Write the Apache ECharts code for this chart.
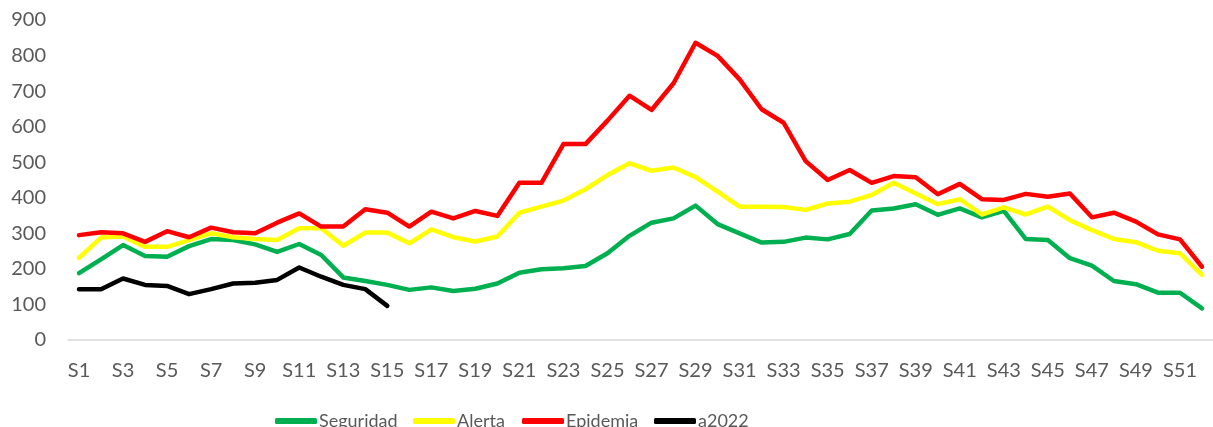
<!DOCTYPE html>
<html><head><meta charset="utf-8">
<script src="https://cdn.jsdelivr.net/npm/echarts@6/dist/echarts.min.js"></script>
<style>html,body{margin:0;padding:0;background:#fff}#c{width:1213px;height:427px}</style>
</head><body><div id="c"></div>
<script>
const categories = Array.from({length:52},(_,i)=>'S'+(i+1));
const seguridad = [188,227,267,236,234,264,284,281,269,248,270,239,176,166,155,141,148,138,144,159,189,199,202,208,244,293,330,342,378,326,300,274,276,288,283,298,364,370,382,352,370,345,363,284,281,230,209,166,157,133,133,89];
const alerta = [231,288,291,262,262,281,300,289,284,281,314,314,265,302,302,272,311,289,277,291,358,375,392,424,464,497,476,485,458,417,375,375,374,366,384,389,408,442,412,382,396,353,373,353,375,337,309,284,275,251,244,183];
const epidemia = [295,303,300,276,306,289,316,303,300,330,356,319,319,368,358,319,361,342,363,349,442,442,551,551,617,687,647,722,836,799,733,649,611,503,450,478,442,461,458,410,439,396,394,411,403,412,345,358,333,297,283,206];
const a2022 = [143,143,173,155,152,129,143,159,161,169,204,178,155,143,96];
const seriesNames = ['Seguridad','Alerta','Epidemia','a2022'];
const colors = ['#00B050','#FFFF00','#FF0000','#000000'];
const yTicks = {min:0,max:900,interval:100};

const chart = echarts.init(document.getElementById('c'));
const font = 'Lato, "Open Sans", sans-serif';
const mk = (name, data, color) => ({name, type:'line', data, symbol:'none', smooth:false,
  lineStyle:{color, width:4.5, cap:'round', join:'round'}, itemStyle:{color}});
const legendLefts = [270, 408, 517, 649];
chart.setOption({
  animation:false,
  grid:{left:68, right:-10, top:20, bottom:87},
  legend: seriesNames.map((n,i)=>({data:[n], left:legendLefts[i], top:407,
    itemWidth:42, itemHeight:6, icon:'roundRect',
    textStyle:{color:'#595959', fontSize:18, fontFamily:font, padding:[0,0,0,-3]}})),
  xAxis:{type:'category', data:categories, boundaryGap:true,
    axisLine:{lineStyle:{color:'#D9D9D9', width:1.5}}, axisTick:{show:false},
    axisLabel:{interval:1, color:'#595959', fontSize:20, fontFamily:font, margin:21}},
  yAxis:{type:'value', min:yTicks.min, max:yTicks.max, interval:yTicks.interval,
    splitLine:{show:false}, axisLine:{show:false}, axisTick:{show:false},
    axisLabel:{color:'#595959', fontSize:20, fontFamily:font, margin:22}},
  series:[mk(seriesNames[0],seguridad,colors[0]), mk(seriesNames[1],alerta,colors[1]),
          mk(seriesNames[2],epidemia,colors[2]), mk(seriesNames[3],a2022,colors[3])]
});
</script></body></html>
